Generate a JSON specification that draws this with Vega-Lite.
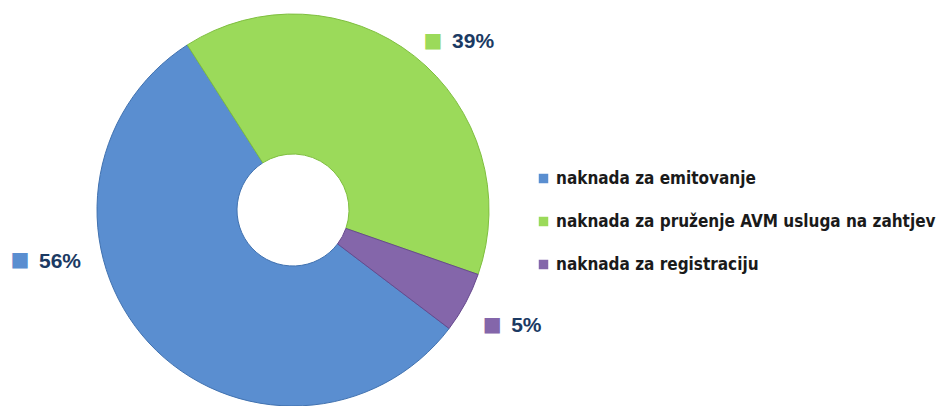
{
  "$schema": "https://vega.github.io/schema/vega-lite/v6.json",
  "width": 586,
  "height": 420,
  "padding": 0,
  "autosize": {"type": "pad"},
  "background": "white",
  "config": {"view": {"stroke": null}},
  "data": {
    "values": [
      {"category": "naknada za emitovanje", "value": 0.556},
      {"category": "naknada za pruženje AVM usluga na zahtjev", "value": 0.394},
      {"category": "naknada za registraciju", "value": 0.05}
    ]
  },
  "encoding": {
    "theta": {"field": "value", "type": "quantitative", "stack": true, "scale": {"range": [2.2201, 8.5033]}},
    "order": {"field": "category", "type": "nominal", "sort": "ascending"}
  },
  "layer": [
    {
      "mark": {"type": "arc", "outerRadius": 196, "innerRadius": 56, "strokeWidth": 1},
      "encoding": {
        "color": {
          "field": "category",
          "type": "nominal",
          "scale": {
            "domain": ["naknada za emitovanje", "naknada za pruženje AVM usluga na zahtjev", "naknada za registraciju"],
            "range": ["#5A8ED0", "#9BDA5A", "#8466AA"]
          },
          "legend": {
            "orient": "none",
            "legendX": 535,
            "legendY": 170,
            "title": null,
            "symbolType": "square",
            "symbolSize": 90,
            "symbolStrokeWidth": 0,
            "labelFont": "DejaVu Sans Condensed",
            "labelFontWeight": "bold",
            "labelFontSize": 17,
            "labelColor": "#1a1a1a",
            "labelLimit": 600,
            "labelOffset": 4,
            "rowPadding": 25,
            "padding": 0
          }
        },
        "stroke": {
          "field": "category",
          "type": "nominal",
          "scale": {
            "domain": ["naknada za emitovanje", "naknada za pruženje AVM usluga na zahtjev", "naknada za registraciju"],
            "range": ["#4172B0", "#7FBF3F", "#67498E"]
          },
          "legend": null
        }
      }
    },
    {
      "mark": {"type": "text", "radius": 226, "dy": 8, "font": "DejaVu Sans", "fontSize": 20, "baseline": "middle", "align": "center"},
      "encoding": {
        "text": {"condition": {"test": "datum.category !== 'naknada za emitovanje'", "value": "■"}, "value": ""},
        "color": {"field": "category", "type": "nominal", "legend": null}
      }
    },
    {
      "mark": {"type": "text", "radius": 226, "dy": 9, "dx": 19, "font": "Liberation Sans", "fontWeight": "bold", "fontSize": 21, "baseline": "middle", "align": "left", "color": "#1B3A63"},
      "encoding": {
        "text": {"condition": {"test": "datum.category !== 'naknada za emitovanje'", "field": "value", "type": "quantitative", "format": ".0%"}, "value": ""}
      }
    },
    {
      "transform": [{"filter": "datum.category === 'naknada za emitovanje'"}],
      "mark": {"type": "text", "radius": 226, "dx": -107, "dy": -103, "font": "DejaVu Sans", "fontSize": 20, "baseline": "middle", "align": "center"},
      "encoding": {
        "text": {"value": "■"},
        "color": {"field": "category", "type": "nominal", "legend": null}
      }
    },
    {
      "transform": [{"filter": "datum.category === 'naknada za emitovanje'"}],
      "mark": {"type": "text", "radius": 226, "dx": -88, "dy": -101, "font": "Liberation Sans", "fontWeight": "bold", "fontSize": 21, "baseline": "middle", "align": "left", "color": "#1B3A63"},
      "encoding": {
        "text": {"field": "value", "type": "quantitative", "format": ".0%"}
      }
    }
  ]
}
